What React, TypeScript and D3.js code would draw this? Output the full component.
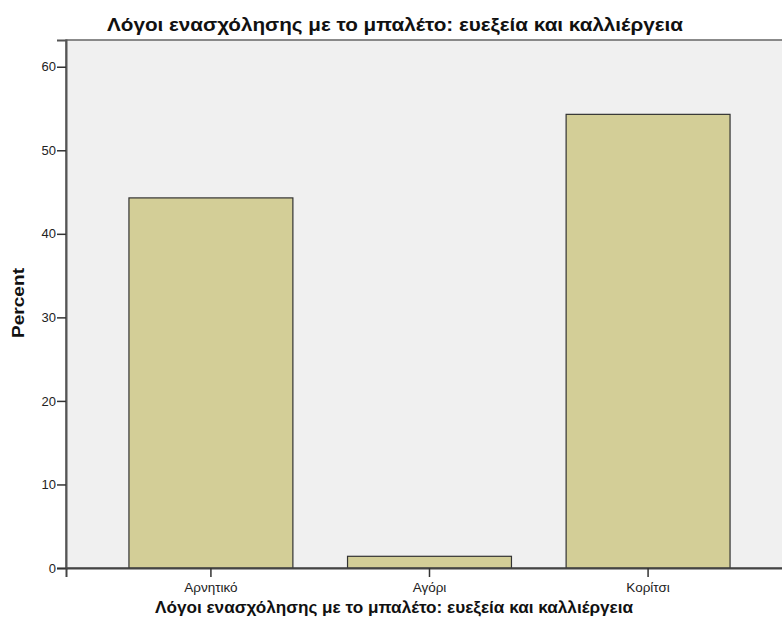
import { useEffect, useRef } from 'react'
import * as d3 from 'd3'

const categories = ['Αρνητικό', 'Αγόρι', 'Κορίτσι']
const percents = [44.3, 1.4, 54.3]
const yTicks = [0, 10, 20, 30, 40, 50, 60]
const title = 'Λόγοι ενασχόλησης με το μπαλέτο: ευεξεία και καλλιέργεια'

export default function App() {
    const svgRef = useRef<SVGSVGElement>(null)

    useEffect(() => {
        if (!svgRef.current) return
        const svg = d3.select(svgRef.current)
        svg.selectAll('*').remove()

        const width = 782
        const height = 626
        const margin = { top: 40, right: -11, bottom: 58, left: 66 }
        const innerW = width - margin.left - margin.right
        const innerH = height - margin.top - margin.bottom
        const font = 'Liberation Sans, Arial, sans-serif'

        svg.attr('width', width).attr('height', height)

        const g = svg.append('g')
            .attr('transform', `translate(${margin.left},${margin.top})`)

        const x = d3.scaleBand()
            .domain(categories)
            .range([0, innerW])
            .paddingInner(0.25)
            .paddingOuter(0.288)

        const y = d3.scaleLinear()
            .domain([0, 63.2])
            .range([innerH, 0])

        // plot background
        g.append('rect')
            .attr('x', 0)
            .attr('y', 0)
            .attr('width', innerW)
            .attr('height', innerH)
            .attr('fill', '#f0f0f0')
            .attr('stroke', '#666')
            .attr('stroke-width', 1.5)

        // bars
        g.selectAll('.bar')
            .data(percents)
            .enter()
            .append('rect')
            .attr('class', 'bar')
            .attr('x', (_, i) => x(categories[i])!)
            .attr('width', x.bandwidth())
            .attr('y', d => y(d))
            .attr('height', d => innerH - y(d))
            .attr('fill', '#d3ce97')
            .attr('stroke', '#333')
            .attr('stroke-width', 1.2)

        // y axis
        const yAxis = g.append('g')
            .call(d3.axisLeft(y).tickValues(yTicks).tickSize(9).tickPadding(1).tickFormat(d3.format('d')))
        yAxis.select('.domain').attr('stroke', '#555').attr('stroke-width', 2)
        yAxis.selectAll('.tick line').attr('stroke', '#333').attr('stroke-width', 1.5)
        yAxis.selectAll('.tick text')
            .style('font-family', font)
            .style('font-size', '13px')
            .attr('fill', '#222')

        // x axis
        const xAxis = g.append('g')
            .attr('transform', `translate(0,${innerH})`)
            .call(d3.axisBottom(x).tickSize(9).tickPadding(5))
        xAxis.select('.domain').attr('stroke', '#444').attr('stroke-width', 2)
        xAxis.selectAll('.tick line').attr('stroke', '#333').attr('stroke-width', 1.5)
        xAxis.selectAll('.tick text')
            .style('font-family', font)
            .style('font-size', '13.5px')
            .attr('fill', '#222')

        // title
        svg.append('text')
            .attr('x', 395)
            .attr('y', 31)
            .attr('text-anchor', 'middle')
            .attr('textLength', 576)
            .attr('lengthAdjust', 'spacingAndGlyphs')
            .style('font-family', font)
            .style('font-size', '19px')
            .style('font-weight', 'bold')
            .attr('fill', '#111')
            .text(title)

        // x axis title
        svg.append('text')
            .attr('x', 394)
            .attr('y', 613)
            .attr('text-anchor', 'middle')
            .attr('textLength', 478)
            .attr('lengthAdjust', 'spacingAndGlyphs')
            .style('font-family', font)
            .style('font-size', '16px')
            .style('font-weight', 'bold')
            .attr('fill', '#111')
            .text(title)

        // y axis title
        svg.append('text')
            .attr('transform', `translate(24,${margin.top + innerH / 2 - 1}) rotate(-90)`)
            .attr('text-anchor', 'middle')
            .attr('textLength', 70)
            .attr('lengthAdjust', 'spacingAndGlyphs')
            .style('font-family', font)
            .style('font-size', '16px')
            .style('font-weight', 'bold')
            .attr('fill', '#111')
            .text('Percent')
    }, [])

    return (
        <div style={{ position: 'absolute', left: 0, top: 0, background: '#fff' }}>
            <svg ref={svgRef}></svg>
        </div>
    )
}
